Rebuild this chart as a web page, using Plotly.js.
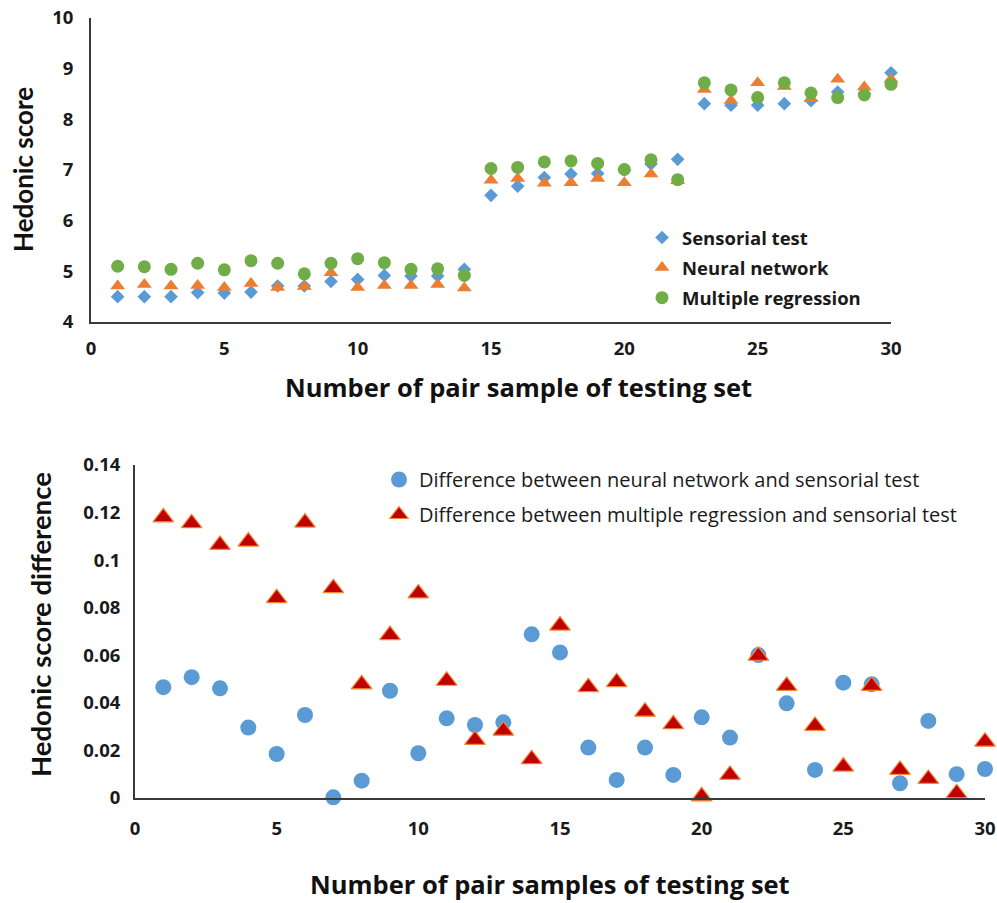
<!DOCTYPE html>
<html>
<head>
<meta charset="utf-8">
<script src="https://cdn.plot.ly/plotly-3.0.1.min.js"></script>
<style>html,body{margin:0;padding:0;background:#fff;}#chart{width:997px;height:903px;}</style>
</head>
<body>
<div id="chart"></div>
<script>
// ---- data ----
const samples = [1,2,3,4,5,6,7,8,9,10,11,12,13,14,15,16,17,18,19,20,21,22,23,24,25,26,27,28,29,30];
const sensorial = [4.50,4.50,4.50,4.58,4.57,4.59,4.71,4.71,4.80,4.84,4.92,4.91,4.91,5.04,6.50,6.68,6.85,6.92,6.93,7.00,7.12,7.21,8.31,8.28,8.28,8.31,8.37,8.54,8.50,8.92];
const neural = [4.71,4.74,4.71,4.72,4.68,4.76,4.68,4.70,4.97,4.68,4.72,4.72,4.74,4.67,6.80,6.83,6.74,6.75,6.83,6.75,6.92,6.79,8.59,8.37,8.72,8.65,8.41,8.79,8.64,8.79];
const regression = [5.10,5.09,5.04,5.16,5.03,5.21,5.16,4.95,5.16,5.25,5.17,5.04,5.05,4.92,7.03,7.05,7.16,7.18,7.13,7.01,7.20,6.81,8.72,8.58,8.43,8.72,8.52,8.43,8.48,8.69];
const nnDiff = [0.0466,0.0508,0.0461,0.0296,0.0185,0.0349,0.0003,0.0073,0.0451,0.0188,0.0335,0.0307,0.0318,0.0688,0.0612,0.0212,0.0076,0.0212,0.0097,0.0339,0.0254,0.0601,0.0398,0.0118,0.0485,0.0478,0.0062,0.0324,0.0100,0.0122];
const mrDiff = [0.1180,0.1155,0.1064,0.1078,0.0840,0.1158,0.0882,0.0478,0.0685,0.0860,0.0493,0.0244,0.0283,0.0163,0.0725,0.0466,0.0487,0.0363,0.0310,0.0007,0.0097,0.0598,0.0471,0.0303,0.0132,0.0471,0.0118,0.0080,0.0020,0.0237];

const topNames = ['Sensorial test','Neural network','Multiple regression'];
const bottomNames = ['Difference between neural network and sensorial test','Difference between multiple regression and sensorial test'];
const xTicks = [0,5,10,15,20,25,30];
const xTickLabels = ['0','5','10','15','20','25','30'];

// ---- style ----
const HFONT = '"Open Sans", Lato, "DejaVu Sans", sans-serif';
const VFONT = 'Lato, "Open Sans", "DejaVu Sans", sans-serif';
const W = 997, H = 903;
const px = v => v / W;
const py = v => 1 - v / H;

const traces = [
  {x: samples, y: sensorial, name: topNames[0], type: 'scatter', mode: 'markers', xaxis: 'x', yaxis: 'y',
   legend: 'legend', legendgroup: 'a', cliponaxis: false,
   marker: {symbol: 'diamond', size: 10.5, color: '#5B9BD5'}},
  {x: samples, y: neural, name: topNames[1], type: 'scatter', mode: 'markers', xaxis: 'x', yaxis: 'y',
   legend: 'legend', legendgroup: 'b', cliponaxis: false,
   marker: {symbol: 'triangle-up', size: 13, color: '#ED7D31'}},
  {x: samples, y: regression, name: topNames[2], type: 'scatter', mode: 'markers', xaxis: 'x', yaxis: 'y',
   legend: 'legend', legendgroup: 'c', cliponaxis: false,
   marker: {symbol: 'circle', size: 13, color: '#70AD47'}},
  {x: samples, y: nnDiff, name: bottomNames[0], type: 'scatter', mode: 'markers', xaxis: 'x2', yaxis: 'y2',
   legend: 'legend2', legendgroup: 'd', cliponaxis: false,
   marker: {symbol: 'circle', size: 16, color: '#5B9BD5'}},
  {x: samples, y: mrDiff, name: bottomNames[1], type: 'scatter', mode: 'markers', xaxis: 'x2', yaxis: 'y2',
   legend: 'legend2', legendgroup: 'e', cliponaxis: false,
   marker: {symbol: 'triangle-up', size: 18, color: '#C00000', line: {color: '#F0883A', width: 1.2}}}
];

const tickFont = {family: HFONT, size: 18.5, weight: 'bold', color: '#1a1a1a'};
const axisBase = {showline: true, linecolor: '#3a3a3a', linewidth: 2, showgrid: false, zeroline: false,
  ticks: 'outside', tickcolor: 'rgba(0,0,0,0)', tickfont: tickFont, fixedrange: true};

const layout = {
  width: W, height: H,
  margin: {l: 0, r: 0, t: 0, b: 0},
  paper_bgcolor: '#ffffff', plot_bgcolor: '#ffffff',
  showlegend: true,
  xaxis: Object.assign({}, axisBase, {domain: [px(91), px(891)], range: [0, 30], tickvals: xTicks, ticktext: xTickLabels, anchor: 'y', ticklen: 9}),
  yaxis: Object.assign({}, axisBase, {domain: [py(322), py(18)], range: [4, 10], dtick: 1, anchor: 'x', ticklen: 12}),
  xaxis2: Object.assign({}, axisBase, {domain: [px(135), px(985)], range: [0, 30], tickvals: xTicks, ticktext: xTickLabels, anchor: 'y2', ticklen: 13}),
  yaxis2: Object.assign({}, axisBase, {domain: [py(798), py(465)], range: [0, 0.14], dtick: 0.02, anchor: 'x2', ticklen: 9}),
  legend: {x: px(642), y: py(219), xanchor: 'left', yanchor: 'top', bgcolor: 'rgba(0,0,0,0)',
    font: {family: HFONT, size: 18.5, weight: 'bold', color: '#1a1a1a'}, tracegroupgap: 3, traceorder: 'grouped', itemwidth: 30},
  legend2: {x: px(379), y: py(460), xanchor: 'left', yanchor: 'top', bgcolor: 'rgba(0,0,0,0)',
    font: {family: HFONT, size: 20, color: '#1a1a1a'}, tracegroupgap: 6, traceorder: 'grouped', itemwidth: 30},
  annotations: [
    {text: 'Hedonic score', xref: 'paper', yref: 'paper', x: px(23), y: py(170), textangle: -90, showarrow: false,
     xanchor: 'center', yanchor: 'middle', font: {family: VFONT, size: 26, weight: 'bold', color: '#111'}},
    {text: 'Number of pair sample of testing set', xref: 'paper', yref: 'paper', x: px(518), y: py(387), showarrow: false,
     xanchor: 'center', yanchor: 'middle', font: {family: HFONT, size: 25.5, weight: 'bold', color: '#111'}},
    {text: 'Hedonic score difference', xref: 'paper', yref: 'paper', x: px(40), y: py(625), textangle: -90, showarrow: false,
     xanchor: 'center', yanchor: 'middle', font: {family: VFONT, size: 27.5, weight: 'bold', color: '#111'}},
    {text: 'Number of pair samples of testing set', xref: 'paper', yref: 'paper', x: px(550), y: py(884), showarrow: false,
     xanchor: 'center', yanchor: 'middle', borderpad: 0, font: {family: HFONT, size: 25.5, weight: 'bold', color: '#111'}}
  ]
};

Plotly.newPlot('chart', traces, layout, {staticPlot: true, displayModeBar: false});
</script>
</body>
</html>
